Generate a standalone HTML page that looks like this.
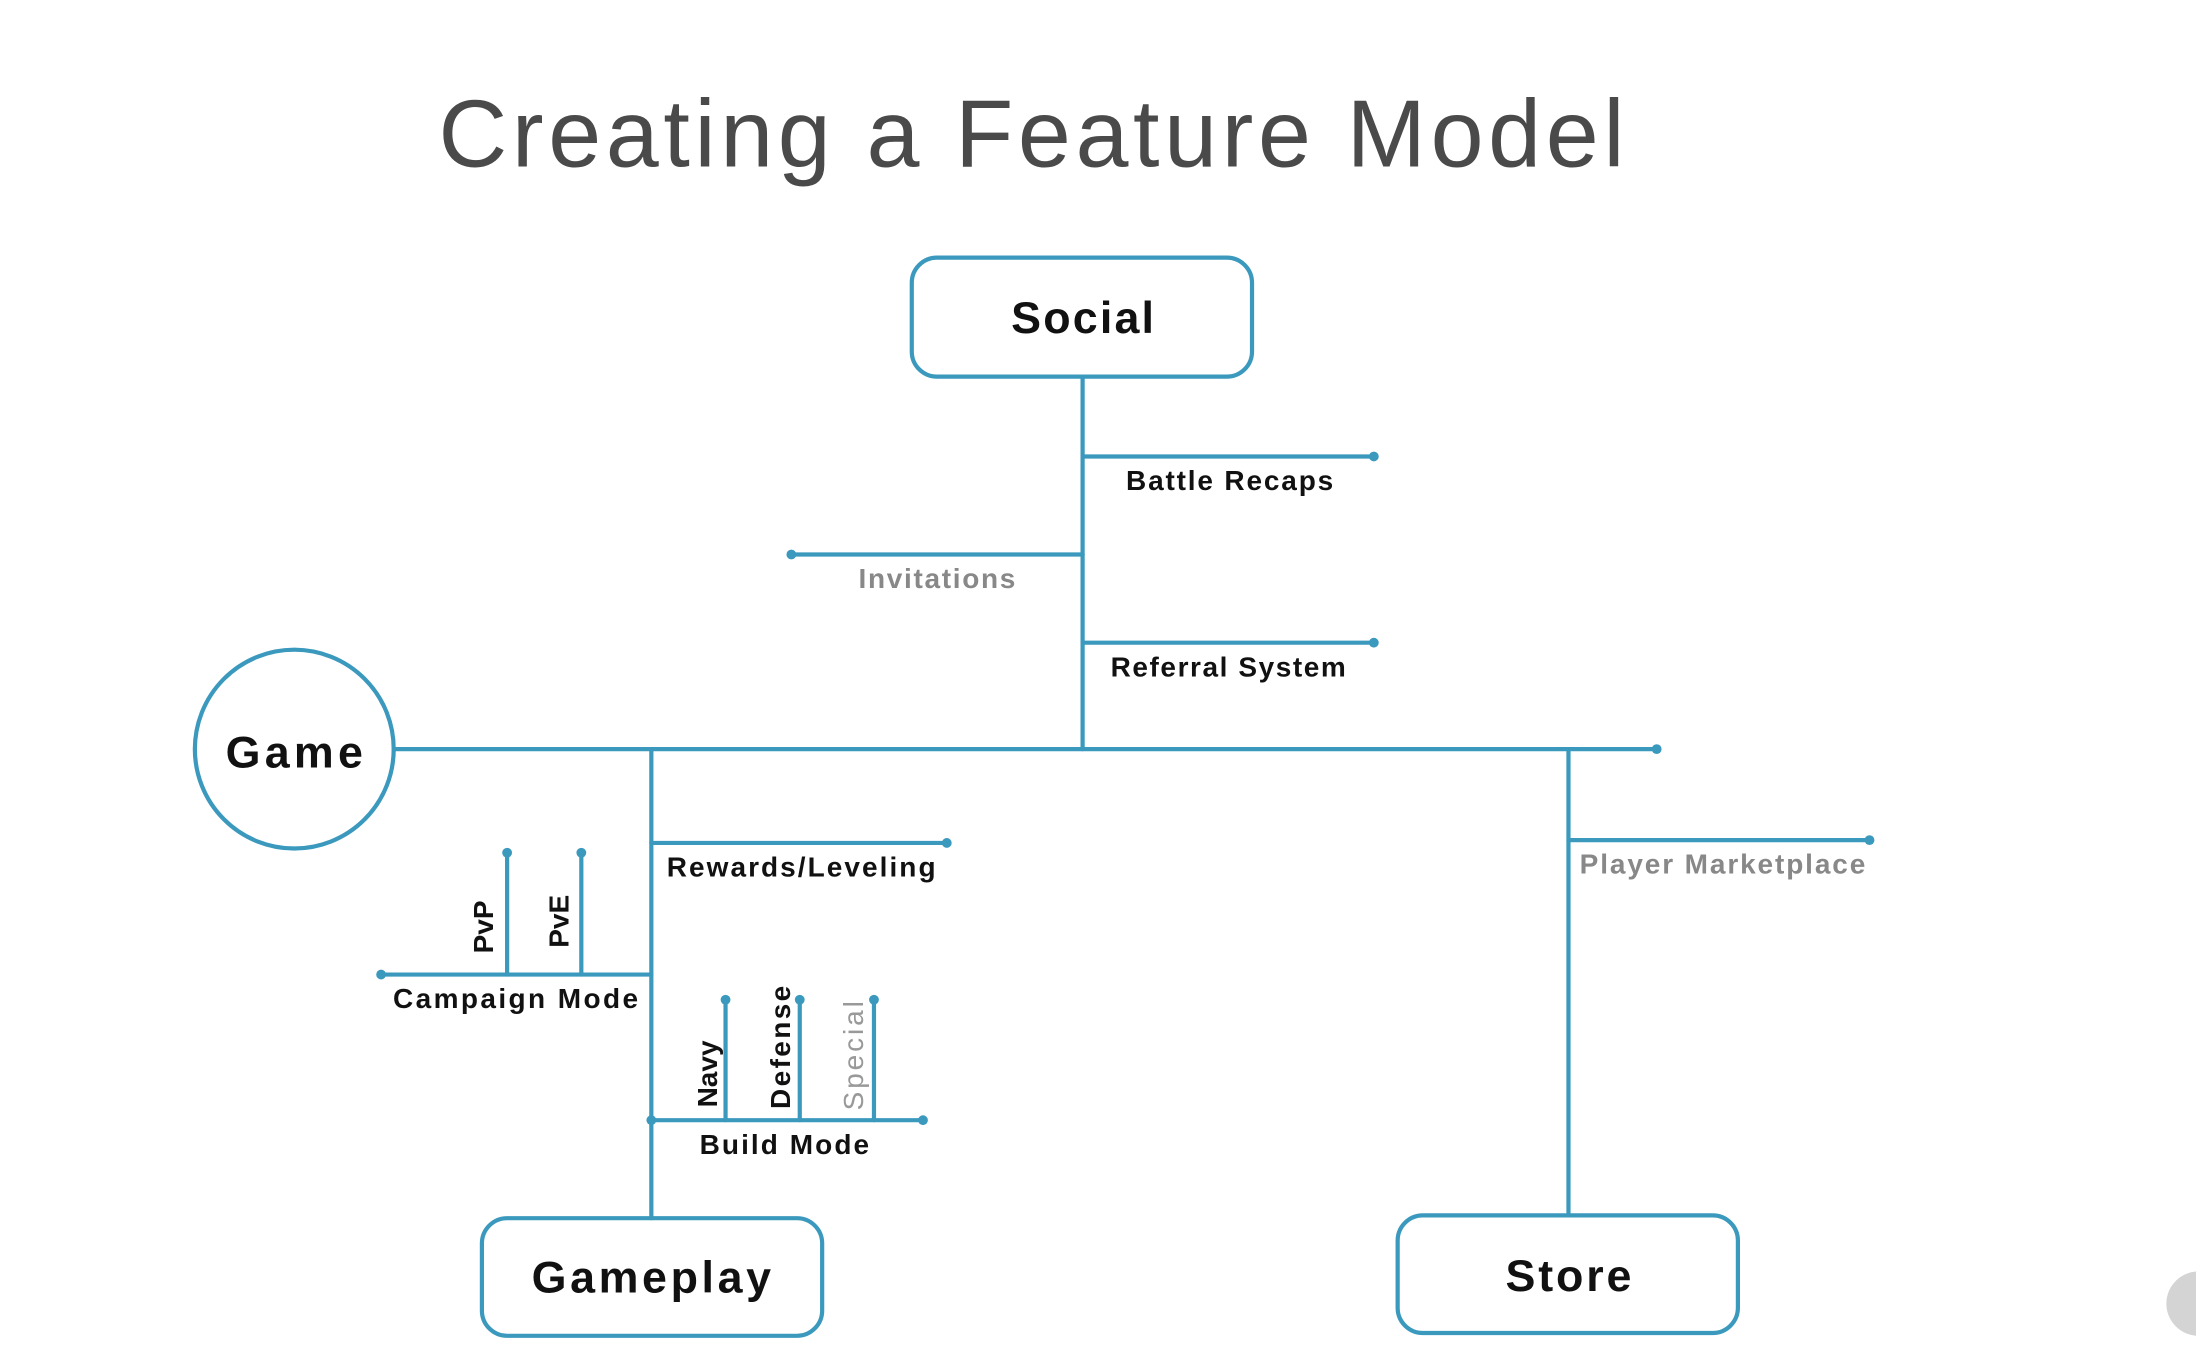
<!DOCTYPE html>
<html><head><meta charset="utf-8"><style>
html,body{margin:0;padding:0;background:#fff;}
svg{display:block}
text{font-family:"Liberation Sans",sans-serif;}
</style></head><body>
<svg width="2196" height="1361" viewBox="0 0 1568 972" xmlns="http://www.w3.org/2000/svg">
<rect width="1568" height="972" fill="#fff"/>
<text x="313" y="119" font-size="68" fill="#4a4a4a" textLength="847" lengthAdjust="spacing">Creating a Feature Model</text>
<g stroke="#3b99be" stroke-width="3" fill="none" stroke-linecap="round">
<rect x="651" y="184" width="243" height="85" rx="18"/>
<rect x="344" y="870" width="243" height="84" rx="18"/>
<rect x="998" y="868" width="243" height="84" rx="18"/>
<circle cx="210" cy="535" r="71"/>
<line x1="773" y1="269" x2="773" y2="535"/>
<line x1="773" y1="326" x2="981" y2="326"/>
<line x1="565" y1="396" x2="773" y2="396"/>
<line x1="773" y1="459" x2="981" y2="459"/>
<line x1="281" y1="535" x2="1183" y2="535"/>
<line x1="465" y1="535" x2="465" y2="870"/>
<line x1="465" y1="602" x2="676" y2="602"/>
<line x1="272" y1="696" x2="465" y2="696"/>
<line x1="362" y1="609" x2="362" y2="696"/>
<line x1="415" y1="609" x2="415" y2="696"/>
<line x1="465" y1="800" x2="659" y2="800"/>
<line x1="518" y1="714" x2="518" y2="800"/>
<line x1="571" y1="714" x2="571" y2="800"/>
<line x1="624" y1="714" x2="624" y2="800"/>
<line x1="1120" y1="535" x2="1120" y2="868"/>
<line x1="1120" y1="600" x2="1335" y2="600"/>
</g>
<g fill="#3b99be">
<circle cx="981" cy="326" r="3.5"/><circle cx="565" cy="396" r="3.5"/><circle cx="981" cy="459" r="3.5"/>
<circle cx="1183" cy="535" r="3.5"/><circle cx="676" cy="602" r="3.5"/><circle cx="272" cy="696" r="3.5"/>
<circle cx="362" cy="609" r="3.5"/><circle cx="415" cy="609" r="3.5"/><circle cx="659" cy="800" r="3.5"/>
<circle cx="518" cy="714" r="3.5"/><circle cx="571" cy="714" r="3.5"/><circle cx="624" cy="714" r="3.5"/>
<circle cx="1335" cy="600" r="3.5"/><circle cx="465" cy="800" r="3.5"/>
</g>
<g font-weight="bold" text-anchor="middle" fill="#111">
<text x="773" y="238" font-size="32" textLength="102">Social</text>
<text x="210" y="548" font-size="32" textLength="98">Game</text>
<text x="465" y="923" font-size="32" textLength="171">Gameplay</text>
<text x="1120" y="922" font-size="32" textLength="90">Store</text>
<g font-size="20">
<text x="878" y="350" textLength="148">Battle Recaps</text>
<text x="669" y="420" fill="#888" textLength="112">Invitations</text>
<text x="877" y="483" textLength="168">Referral System</text>
<text x="572" y="626" textLength="192">Rewards/Leveling</text>
<text x="368" y="720" textLength="175">Campaign Mode</text>
<text x="560" y="824" textLength="121">Build Mode</text>
<text x="1230" y="624" fill="#888" textLength="204">Player Marketplace</text>
<text transform="translate(352,662) rotate(-90)">PvP</text>
<text transform="translate(406,658) rotate(-90)">PvE</text>
<text transform="translate(512,767) rotate(-90)">Navy</text>
<text transform="translate(564,748) rotate(-90)" textLength="88">Defense</text>
<text transform="translate(616,754) rotate(-90)" fill="#999" font-weight="normal" textLength="78">Special</text>
</g>
</g>
<circle cx="1570" cy="931" r="23" fill="#d4d4d4"/>
</svg>
</body></html>
